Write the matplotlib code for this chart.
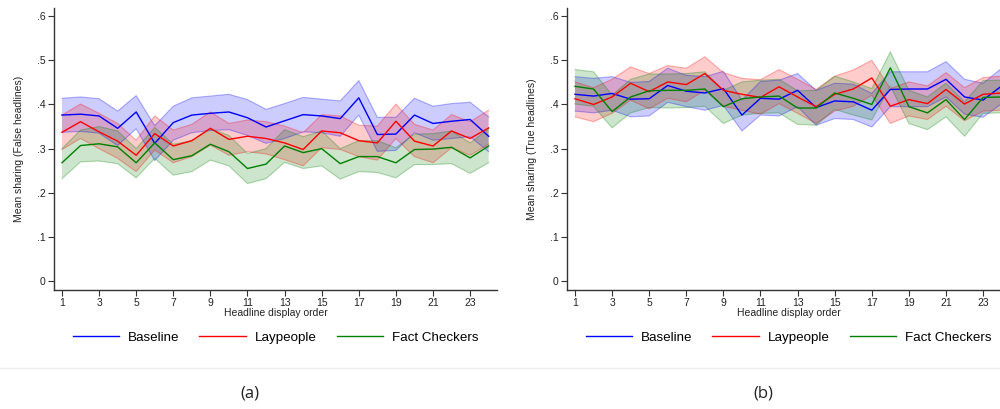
import matplotlib.pyplot as plt
from matplotlib.lines import Line2D

order = list(range(1, 25))

# panel (a): false headlines
false_base = [.376, .378, .374, .346, .383, .312, .359, .376, .380, .383, .370, .349,
              .363, .377, .374, .368, .415, .332, .333, .376, .357, .362, .366, .328]
false_base_hi = [.414, .417, .413, .385, .420, .352, .396, .415, .419, .423, .411, .389,
                 .402, .416, .412, .408, .454, .371, .371, .414, .396, .402, .405, .372]
false_base_lo = [.337, .339, .335, .307, .345, .273, .319, .336, .341, .343, .330, .312,
                 .323, .338, .336, .328, .376, .294, .296, .336, .319, .323, .327, .293]

false_lay = [.337, .361, .338, .317, .285, .334, .306, .318, .346, .321, .328, .323,
             .313, .298, .340, .336, .318, .313, .362, .317, .306, .340, .323, .347]
false_lay_hi = [.376, .401, .380, .357, .319, .374, .342, .355, .383, .357, .365, .361,
                .351, .336, .377, .374, .353, .351, .401, .355, .342, .377, .361, .387]
false_lay_lo = [.298, .323, .300, .278, .248, .297, .268, .282, .308, .285, .293, .288,
                .275, .261, .302, .298, .282, .274, .323, .282, .268, .302, .285, .310]

false_fc = [.268, .307, .311, .304, .268, .313, .275, .284, .310, .293, .255, .265,
            .306, .291, .300, .266, .282, .282, .268, .298, .299, .303, .279, .306]
false_fc_hi = [.300, .342, .350, .340, .300, .348, .310, .318, .345, .330, .289, .300,
               .343, .327, .340, .300, .318, .318, .302, .333, .334, .340, .313, .345]
false_fc_lo = [.232, .270, .272, .266, .234, .278, .240, .248, .274, .261, .221, .232,
               .269, .255, .261, .231, .248, .246, .234, .264, .264, .266, .244, .268]

# panel (b): true headlines
true_base = [.423, .419, .425, .412, .413, .443, .430, .426, .436, .376, .414, .412,
             .432, .393, .408, .406, .387, .434, .435, .435, .457, .417, .410, .442]
true_base_hi = [.463, .459, .463, .450, .452, .482, .466, .463, .475, .410, .452, .455,
                .470, .432, .448, .446, .425, .474, .474, .474, .497, .457, .448, .482]
true_base_lo = [.385, .381, .387, .372, .374, .405, .395, .387, .398, .340, .376, .374,
                .395, .353, .368, .366, .349, .395, .395, .395, .417, .378, .371, .402]

true_lay = [.413, .400, .417, .448, .429, .451, .445, .470, .432, .423, .416, .440,
            .417, .395, .423, .435, .460, .396, .411, .402, .434, .401, .423, .426]
true_lay_hi = [.451, .438, .457, .485, .470, .488, .482, .508, .472, .459, .456, .479,
               .457, .434, .464, .478, .500, .436, .451, .442, .472, .438, .461, .464]
true_lay_lo = [.372, .361, .380, .410, .390, .414, .406, .432, .396, .387, .378, .402,
               .380, .357, .385, .396, .421, .357, .374, .366, .396, .363, .385, .387]

true_fc = [.441, .435, .384, .417, .431, .432, .432, .435, .395, .413, .417, .419,
           .392, .392, .426, .414, .400, .483, .395, .381, .411, .366, .416, .417]
true_fc_hi = [.479, .474, .421, .457, .469, .469, .470, .474, .432, .451, .455, .457,
              .431, .432, .464, .451, .436, .519, .432, .417, .448, .406, .454, .455]
true_fc_lo = [.401, .396, .347, .381, .393, .392, .393, .396, .357, .376, .380, .381,
              .355, .353, .389, .376, .365, .442, .357, .343, .372, .328, .380, .381]

groups = ["Baseline", "Laypeople", "Fact Checkers"]
colors = ["#0000ff", "#ff0000", "#008000"]

panels = [
    ("Mean sharing (False headlines)", "(a)",
     [(false_base, false_base_lo, false_base_hi),
      (false_lay, false_lay_lo, false_lay_hi),
      (false_fc, false_fc_lo, false_fc_hi)]),
    ("Mean sharing (True headlines)", "(b)",
     [(true_base, true_base_lo, true_base_hi),
      (true_lay, true_lay_lo, true_lay_hi),
      (true_fc, true_fc_lo, true_fc_hi)]),
]

plt.rcParams["font.family"] = ["Liberation Sans", "DejaVu Sans"]

fig = plt.figure(figsize=(10, 4.09), dpi=100)
lefts = [0.054, 0.567]

for left, (ylabel, caption, series) in zip(lefts, panels):
    ax = fig.add_axes([left, 0.291, 0.443, 0.689])

    # bandas de confianza
    for (mean, lo, hi), color in zip(series, colors):
        ax.fill_between(order, lo, hi, facecolor=color, alpha=0.2, linewidth=0)
        ax.plot(order, lo, color=color, alpha=0.3, linewidth=0.8)
        ax.plot(order, hi, color=color, alpha=0.3, linewidth=0.8)
    for (mean, lo, hi), color in zip(series, colors):
        ax.plot(order, mean, color=color, linewidth=1.0)

    ax.set_xlim(0.57, 24.45)
    ax.set_ylim(-0.02, 0.618)
    ax.set_xticks(range(1, 24, 2))
    ax.set_yticks([0, .1, .2, .3, .4, .5, .6])
    ax.set_yticklabels(["0", ".1", ".2", ".3", ".4", ".5", ".6"])
    for side in ["top", "right"]:
        ax.spines[side].set_visible(False)
    for side in ["left", "bottom"]:
        ax.spines[side].set_color("#333333")
        ax.spines[side].set_linewidth(1.0)
    ax.tick_params(labelsize=7.5, length=4, width=0.8, color="#333333",
                   labelcolor="#222222", pad=2)
    ax.set_xlabel("Headline display order", fontsize=7.5, color="#222222", labelpad=0)
    ax.set_ylabel(ylabel, fontsize=7.5, color="#222222", labelpad=9)

    handles = [Line2D([], [], color=c, linewidth=1.0) for c in colors]
    ax.legend(handles, groups, loc="center", bbox_to_anchor=(0.5, -0.17), ncol=3,
              frameon=False, fontsize=9.6, handlelength=3.5, handletextpad=0.65,
              columnspacing=1.5)

    fig.text(left + 0.196, 0.039, caption, ha="center", va="center", fontsize=12,
             family="Open Sans", color="#222222")

# linea separadora
fig.add_artist(Line2D([0, 1], [0.1, 0.1], transform=fig.transFigure,
                      color="#eeeeee", linewidth=1))

fig.savefig("out.png", dpi=100)
